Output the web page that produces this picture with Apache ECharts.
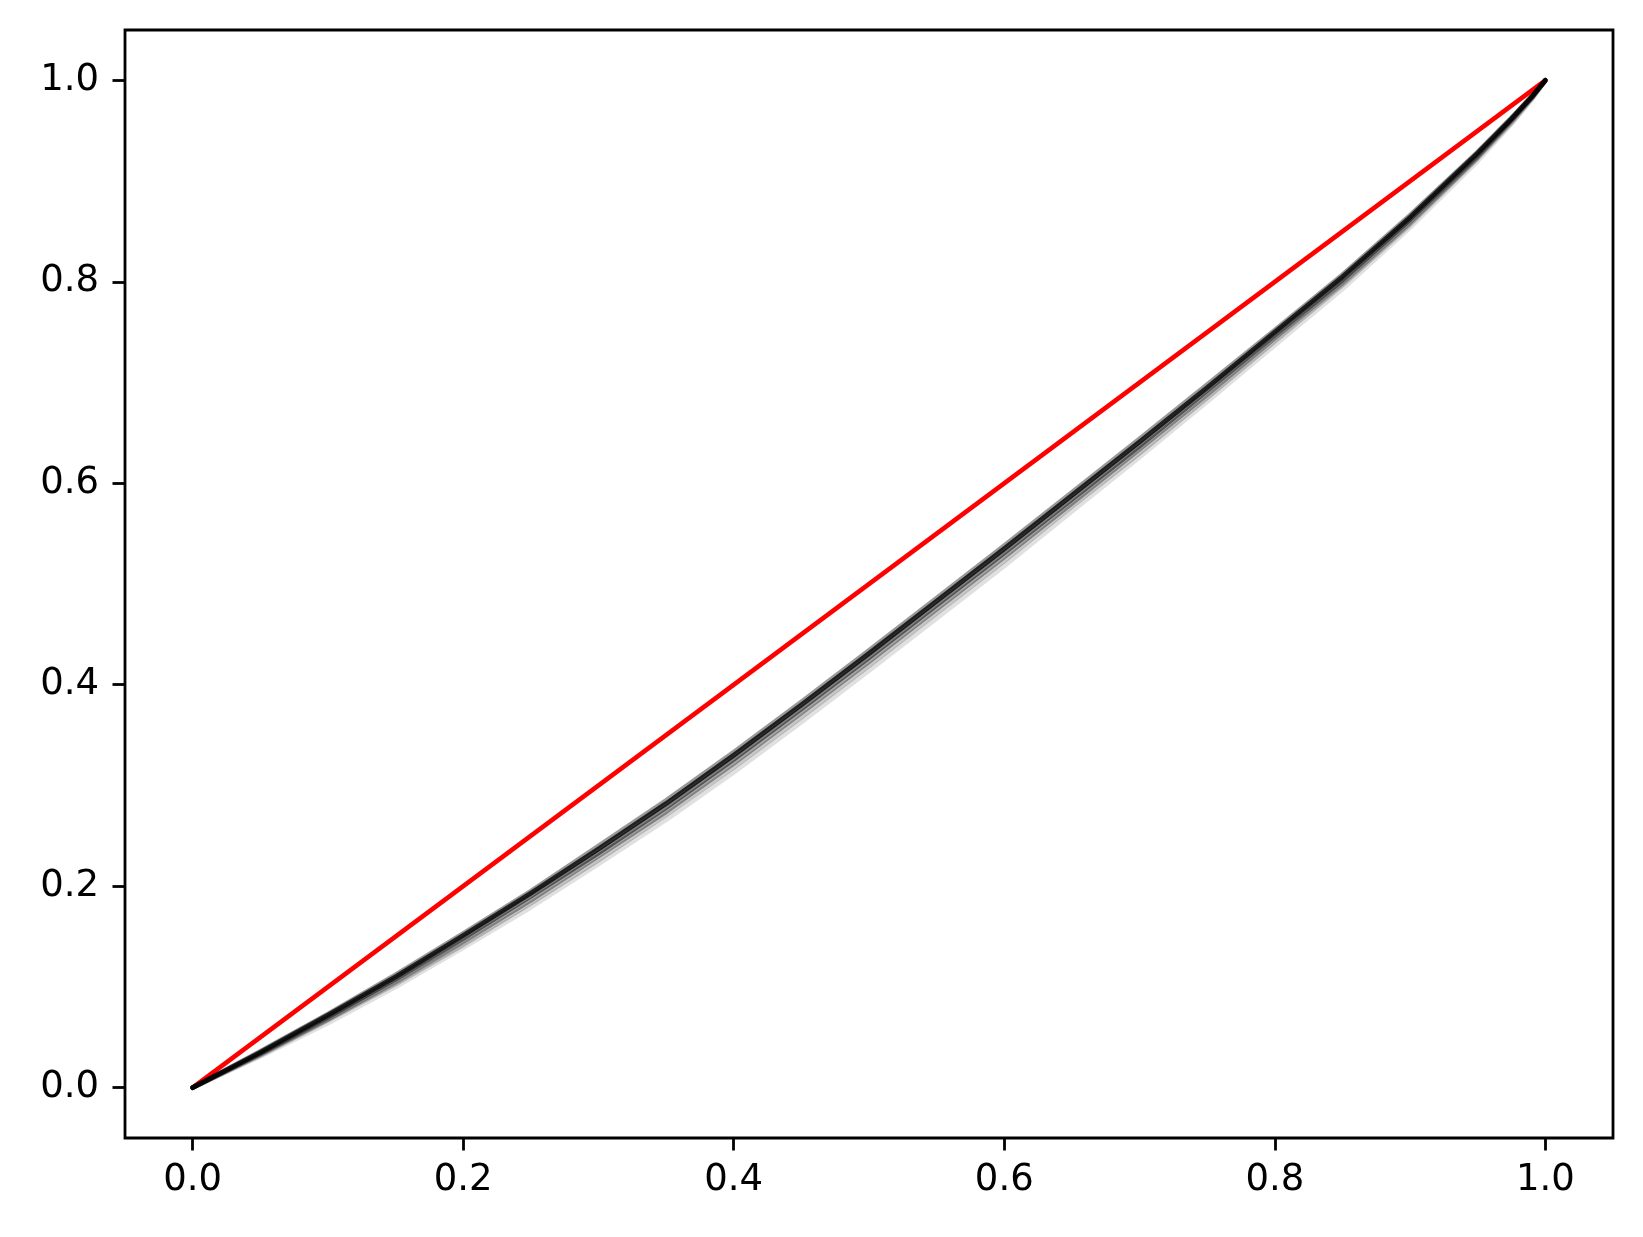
<!DOCTYPE html>
<html>
<head>
<meta charset="utf-8">
<script src="https://cdn.jsdelivr.net/npm/echarts@6/dist/echarts.min.js"></script>
<style>
html,body{margin:0;padding:0;background:#fff;}
#chart{width:1643px;height:1237px;}
</style>
</head>
<body>
<div id="chart"></div>
<script>
// Population share (x) for all curves
const popShare = [0, 0.05, 0.1, 0.15, 0.2, 0.25, 0.3, 0.35, 0.4, 0.45, 0.5, 0.55, 0.6, 0.65, 0.7, 0.75, 0.8, 0.85, 0.9, 0.95, 0.975, 0.99, 1];
// Lorenz curves (cumulative share)
const curveUpper = [0, .036, .073, .112, .153, .195, .240, .285, .333, .383, .434, .486, .538, .591, .644, .698, .752, .807, .866, .929, .963, .984, 1];
const curveCenter = [0, .035, .072, .110, .151, .193, .237, .282, .330, .380, .431, .483, .535, .588, .641, .695, .750, .805, .864, .928, .962, .984, 1];
const curveLow1 = [0, .034, .070, .108, .148, .190, .233, .278, .326, .376, .427, .479, .531, .584, .637, .692, .747, .802, .862, .926, .961, .983, 1];
const curveLow2 = [0, .033, .068, .105, .145, .186, .230, .274, .322, .372, .423, .475, .527, .580, .634, .688, .744, .799, .859, .924, .960, .983, 1];
const curveLow3 = [0, .032, .067, .103, .142, .183, .226, .271, .318, .368, .419, .471, .523, .577, .630, .685, .741, .797, .857, .923, .958, .982, 1];
const curveLow4 = [0, .031, .064, .100, .139, .179, .222, .266, .313, .363, .414, .466, .518, .572, .626, .681, .737, .793, .854, .920, .957, .981, 1];
// Line of equality
const equalityX = [0, 1];
const equalityY = [0, 1];
const tickValues = [0, 0.2, 0.4, 0.6, 0.8, 1.0];

const zip = (xs, ys) => xs.map((x, i) => [x, ys[i]]);
const curves = [
  [curveLow4, 0.12],
  [curveLow3, 0.22],
  [curveLow2, 0.35],
  [curveLow1, 0.5],
  [curveUpper, 0.4],
  [curveCenter, 0.8]
];

function makeAxis(margin) {
  return {
    type: 'value',
    min: -0.05,
    max: 1.05,
    splitLine: {show: false},
    axisLine: {show: false, onZero: false},
    axisTick: {show: true, inside: false, length: 12.5, customValues: tickValues, lineStyle: {color: '#000', width: 2.8}},
    axisLabel: {customValues: tickValues, color: '#000', fontFamily: 'DejaVu Sans', fontSize: 37, margin: margin,
      formatter: v => v.toFixed(1)}
  };
}

const series = [{
  type: 'line',
  data: zip(equalityX, equalityY),
  showSymbol: false,
  lineStyle: {color: '#ff0000', width: 4.6},
  z: 2
}];
curves.forEach(([ys, op]) => {
  series.push({
    type: 'line',
    data: zip(popShare, ys),
    showSymbol: false,
    smooth: false,
    lineStyle: {color: '#000', width: 4.8, opacity: op, join: 'round', cap: 'round'},
    z: 3
  });
});

const chart = echarts.init(document.getElementById('chart'), null, {renderer: 'canvas'});
chart.setOption({
  animation: false,
  backgroundColor: '#fff',
  grid: {left: 125, top: 30, right: 30, bottom: 99, show: true, borderColor: '#000', borderWidth: 2.8, backgroundColor: 'transparent'},
  xAxis: makeAxis(24),
  yAxis: makeAxis(26),
  series: series
});
</script>
</body>
</html>
